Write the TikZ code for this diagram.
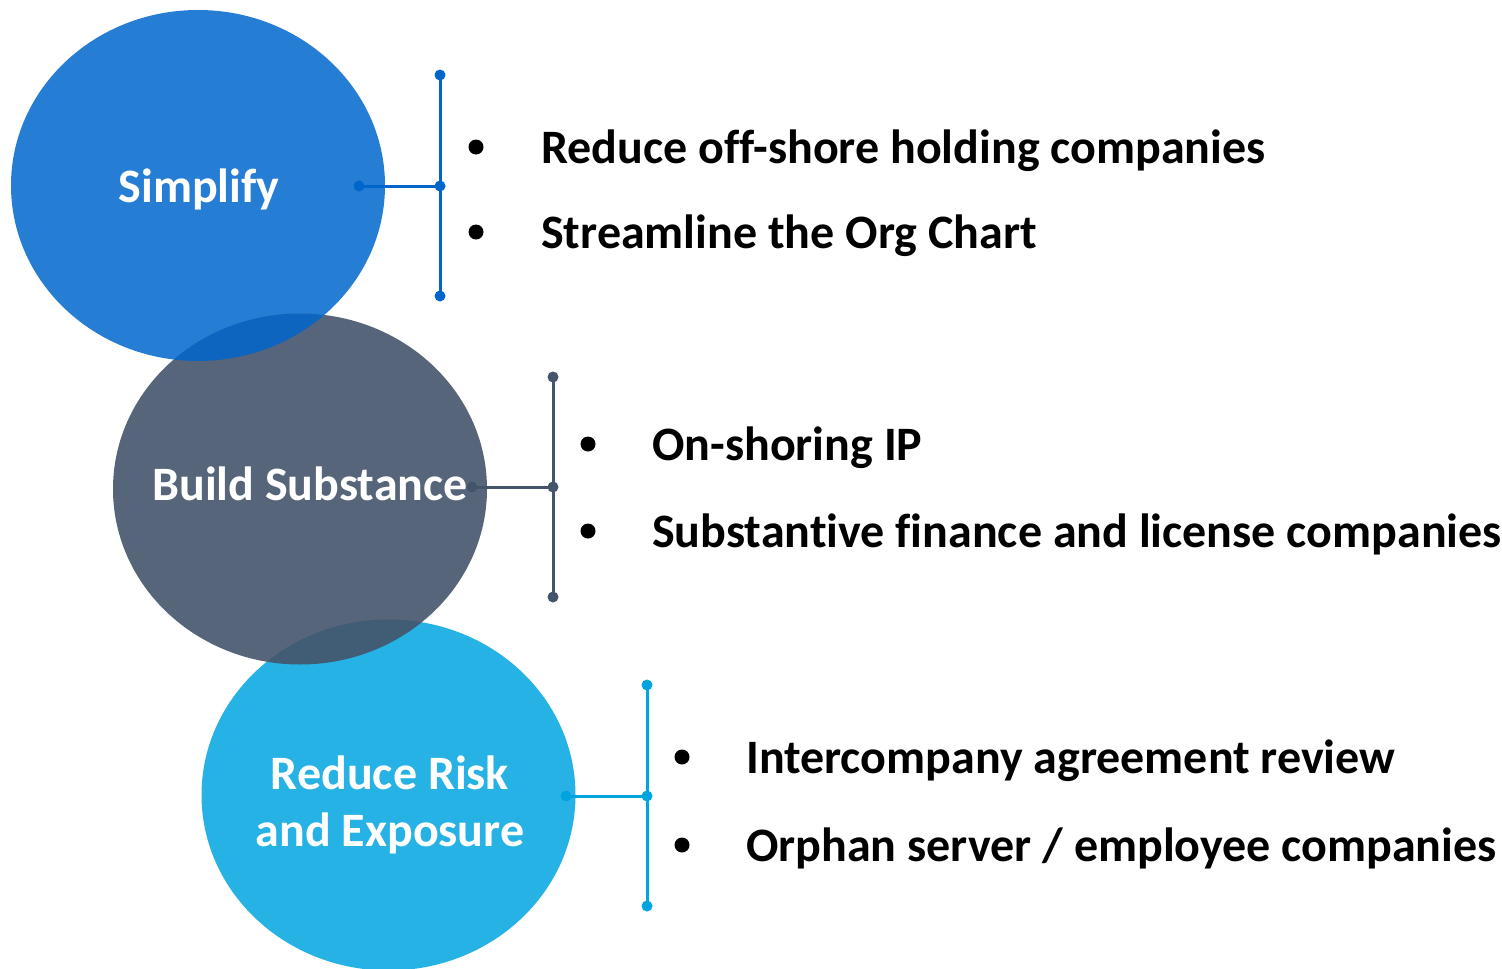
\documentclass[tikz,border=0pt]{standalone}
\usepackage{fontspec}
\setmainfont{Carlito}[Ligatures=NoCommon]
\usepackage{xcolor}
\usepackage{tikz}
\usetikzlibrary{shapes.geometric, positioning}
\definecolor{SimplifyBlue}{HTML}{0066CC}
\definecolor{SubstanceGray}{HTML}{44546A}
\definecolor{RiskCyan}{HTML}{00A5E0}
\tikzset{
  bubble/.style={ellipse, draw=none, inner sep=0pt, minimum width=374pt, minimum height=351pt},
  bubbletext/.style={anchor=base, text=white, align=center, font=\bfseries\fontsize{48}{57}\selectfont},
  bracket/.style={line width=3pt},
  item/.style={anchor=base west, text=black, inner sep=0pt, font=\bfseries\fontsize{48}{57}\selectfont},
  bulletdot/.style={fill=black},
}

\begin{document}
\begin{tikzpicture}[x=1pt, y=-1pt]
  \useasboundingbox (0,0) rectangle (1502,969);

  % Bubbles, bottom one first
  \node[bubble, fill=RiskCyan, fill opacity=0.85] (risk) at (388.5,795) {};
  \node[bubble, fill=SubstanceGray, fill opacity=0.9] (substance) at (300,489) {};
  \node[bubble, fill=SimplifyBlue, fill opacity=0.85] (simplify) at (198,185.5) {};

  \node[bubbletext] (simplify-text) at (199,202) {Simplify};
  \node[bubbletext] (substance-text) at (310,500) {Build Substance};
  \node[bubbletext] (risk-text) at (390,846) {Reduce Risk\\and Exposure};

  % Simplify bracket
  \coordinate (simplify-tap) at (359,186);
  \coordinate (simplify-mid) at (440,186);
  \coordinate (simplify-top) at (440,75);
  \coordinate (simplify-bot) at (440,296);
  \draw[bracket, SimplifyBlue] (simplify-tap) -- (simplify-mid);
  \draw[bracket, SimplifyBlue] (simplify-top) -- (simplify-bot);
  \foreach \p in {simplify-tap,simplify-mid,simplify-top,simplify-bot}{
    \fill[SimplifyBlue] (\p) circle (5.5);
  }

  % Build Substance bracket
  \coordinate (substance-tap) at (472,487);
  \coordinate (substance-mid) at (553,487);
  \coordinate (substance-top) at (553,377);
  \coordinate (substance-bot) at (553,597);
  \draw[bracket, SubstanceGray] (substance-tap) -- (substance-mid);
  \draw[bracket, SubstanceGray] (substance-top) -- (substance-bot);
  \foreach \p in {substance-tap,substance-mid,substance-top,substance-bot}{
    \fill[SubstanceGray] (\p) circle (5.5);
  }

  % Reduce Risk bracket
  \coordinate (risk-tap) at (566,796);
  \coordinate (risk-mid) at (647,796);
  \coordinate (risk-top) at (647,685);
  \coordinate (risk-bot) at (647,906);
  \draw[bracket, RiskCyan] (risk-tap) -- (risk-mid);
  \draw[bracket, RiskCyan] (risk-top) -- (risk-bot);
  \foreach \p in {risk-tap,risk-mid,risk-top,risk-bot}{
    \fill[RiskCyan] (\p) circle (5.5);
  }

  % Bullets
  \foreach \p in {(476,147),(476,232),(588,444),(588,531),(682,757),(682,845)}{
    \fill[bulletdot] \p circle (7.5);
  }

  % Items
  \node[item] (simplify-a) at (541,163) {Reduce off-shore holding companies};
  \node[item] (simplify-b) at (541,248) {Streamline the Org Chart};
  \node[item] (substance-a) at (652,460) {On-shoring IP};
  \node[item] (substance-b) at (652,547) {Substantive finance and license companies};
  \node[item] (risk-a) at (746,773) {Intercompany agreement review};
  \node[item] (risk-b) at (746,861) {Orphan server / employee companies};
\end{tikzpicture}
\end{document}
